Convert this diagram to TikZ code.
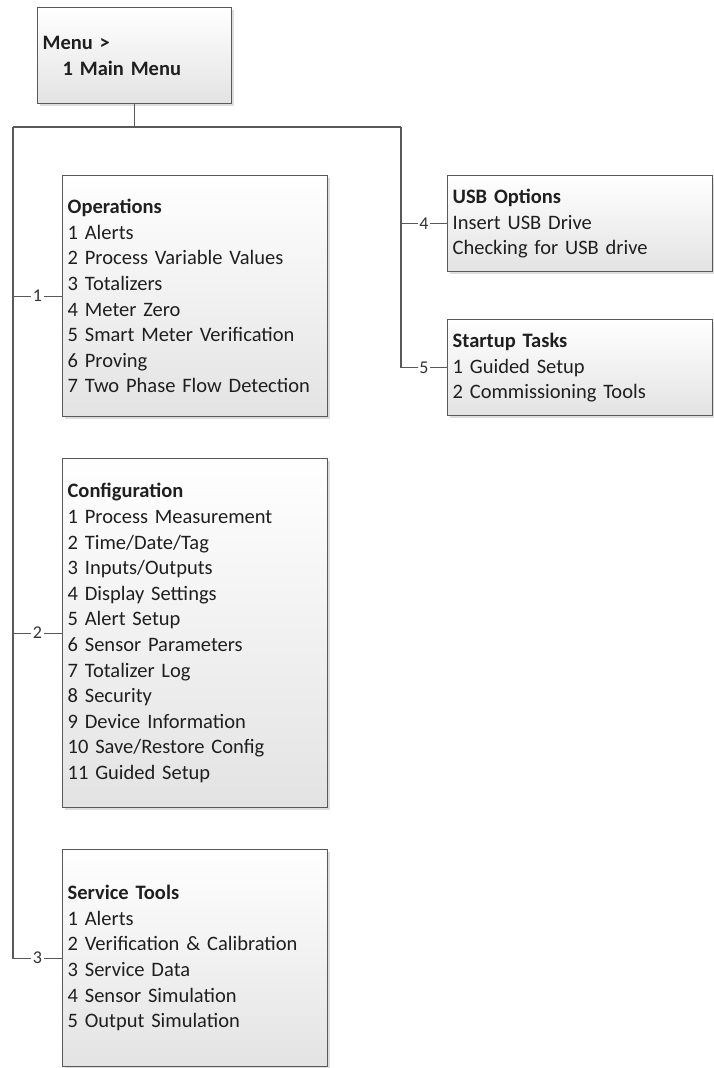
\documentclass[tikz,border=0pt]{standalone}
\usepackage{fontspec}
\setmainfont{Carlito}
\usetikzlibrary{shadows}
\begin{document}
\begin{tikzpicture}[x=1pt,y=-1pt,
  box/.style n args={3}{draw=black!65, line width=1.3pt, top color=white, bottom color=black!11,
    drop shadow={shadow xshift=2.5pt,shadow yshift=-2.5pt,fill=black!22,opacity=0.6},
    anchor=north west, align=left, inner xsep=5pt, inner ysep=0pt,
    text width=#1, minimum width=#2, minimum height=#3,
    font=\fontsize{20.5}{25.6}\selectfont, text=black!88},
  conn/.style={draw=black!65, line width=1.3pt},
  lbl/.style={fill=white, inner sep=1.5pt, font=\fontsize{18}{18}\selectfont, text=black!80}]
\useasboundingbox (0,0) rectangle (714,1068);

\node[box={184pt}{194pt}{96pt}] (menu) at (37,7)
  {\textbf{Menu >}\\\hspace*{20pt}\textbf{1 Main Menu}};

\node[box={255pt}{265pt}{241pt}] (ops) at (62,175)
  {\textbf{Operations}\\1 Alerts\\2 Process Variable Values\\3 Totalizers\\4 Meter Zero\\5 Smart Meter Verification\\6 Proving\\7 Two Phase Flow Detection};

\node[box={255pt}{265pt}{349pt}] (cfg) at (62,458)
  {\textbf{Configuration}\\1 Process Measurement\\2 Time/Date/Tag\\3 Inputs/Outputs\\4 Display Settings\\5 Alert Setup\\6 Sensor Parameters\\7 Totalizer Log\\8 Security\\9 Device Information\\10 Save/Restore Config\\11 Guided Setup};

\node[box={255pt}{265pt}{217pt}] (svc) at (62,849)
  {\textbf{Service Tools}\\1 Alerts\\2 Verification \& Calibration\\3 Service Data\\4 Sensor Simulation\\5 Output Simulation};

\node[box={255pt}{265pt}{96pt}] (usb) at (447,175)
  {\textbf{USB Options}\\Insert USB Drive\\Checking for USB drive};

\node[box={255pt}{265pt}{96pt}] (start) at (447,319)
  {\textbf{Startup Tasks}\\1 Guided Setup\\2 Commissioning Tools};

\coordinate (jl) at (13,127);
\coordinate (jr) at (401,127);
\draw[conn] (menu.south) -- (menu.south |- jl);
\draw[conn] (jl) -- (jr);
\draw[conn] (jl) |- node[lbl,pos=0.75]{1} (ops.west);
\draw[conn] (jl) |- node[lbl,pos=0.75]{2} (cfg.west);
\draw[conn] (jl) |- node[lbl,pos=0.75]{3} (svc.west);
\draw[conn] (jr) |- node[lbl,pos=0.75]{4} (usb.west);
\draw[conn] (jr) |- node[lbl,pos=0.75]{5} (start.west);
\end{tikzpicture}
\end{document}
